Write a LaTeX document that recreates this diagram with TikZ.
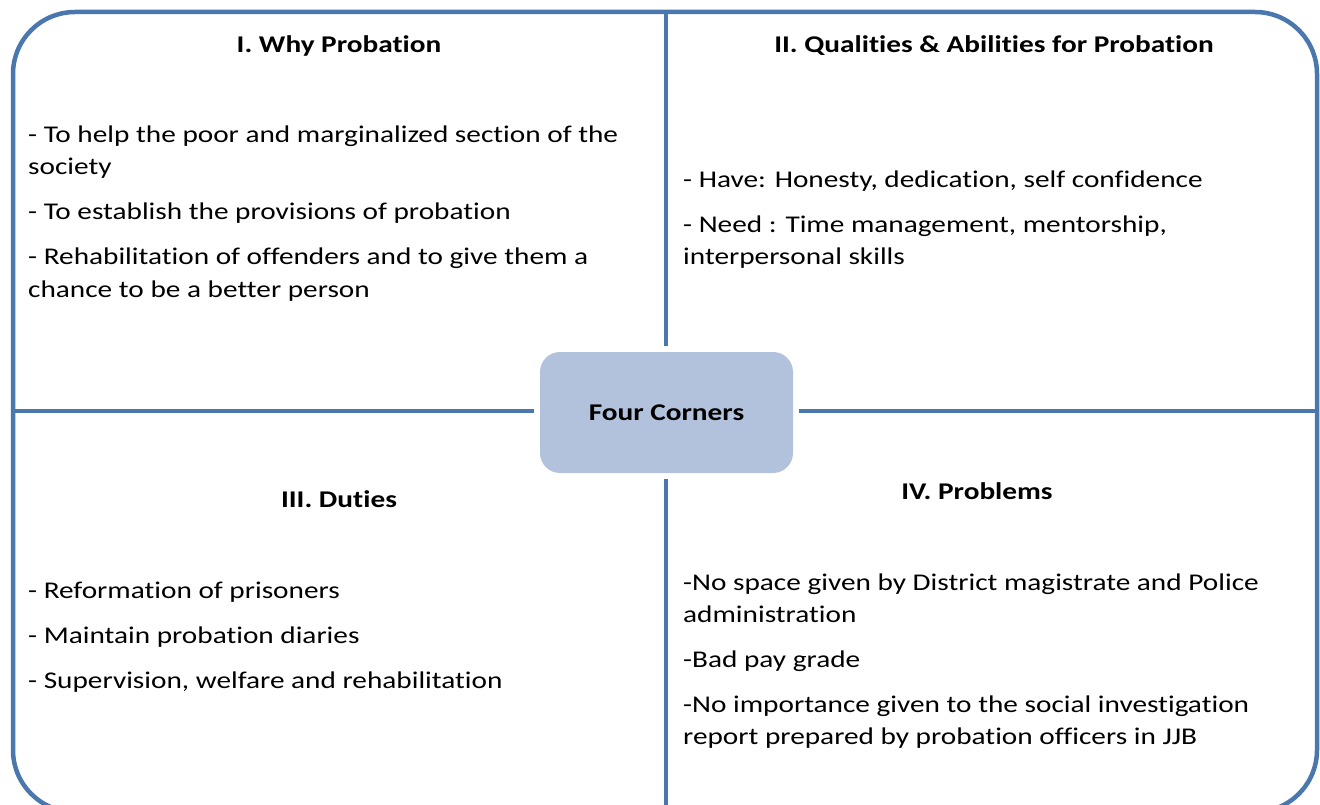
\documentclass[tikz,border=0pt]{standalone}
\usepackage{fontspec}
\setmainfont{Carlito}[FakeStretch=1.22,RawFeature=-liga]
\definecolor{bord}{HTML}{4A77AE}
\definecolor{boxfill}{HTML}{B2C2DC}
\begin{document}
\begin{tikzpicture}[x=1pt,y=-1pt,
  body/.style={anchor=base west,inner sep=0pt,font=\fontsize{24}{29}\selectfont},
  head/.style={anchor=base,inner sep=0pt,font=\fontsize{24}{29}\selectfont\bfseries},
  frame/.style={draw=bord,line width=4.5pt,rounded corners=62pt},
  divider/.style={draw=bord,line width=4pt,shorten >=6pt},
  hub/.style={fill=boxfill,rounded corners=20pt,minimum width=253pt,minimum height=121pt,inner sep=0pt,font=\fontsize{24}{29}\selectfont\bfseries}]
\useasboundingbox (0,0) rectangle (1320,805);
\clip (0,0) rectangle (1320,805);
\draw[frame] (13,12) rectangle (1317,812);
\node[hub] (hub) at (666.5,412.5) {Four Corners};
\coordinate (top) at (666,12);
\coordinate (bot) at (666,812);
\coordinate (lft) at (13,411);
\coordinate (rgt) at (1317,411);
\draw[divider] (top) -- (top|-hub.north);
\draw[divider] (bot) -- (bot|-hub.south);
\draw[divider] (lft) -- (lft-|hub.west);
\draw[divider] (rgt) -- (rgt-|hub.east);
% I
\node[head] (h1) at (339,53) {I. Why Probation};
\node[body] (a1) at (28,143) {- To help the poor and marginalized section of the};
\node[body] (a2) at (28,175) {society};
\node[body] (a3) at (28,220) {- To establish the provisions of probation};
\node[body] (a4) at (28,265) {- Rehabilitation of offenders and to give them a};
\node[body] (a5) at (28,297) {chance to be a better person};
% II
\node[head] (h2) at (994,53) {II. Qualities \& Abilities for Probation};
\node[body] (b1) at (683,188) {- Have: Honesty, dedication, self confidence};
\node[body] (b2) at (683,233) {- Need : Time management, mentorship,};
\node[body] (b3) at (683,265) {interpersonal skills};
% III
\node[head] (h3) at (339,507) {III. Duties};
\node[body] (c1) at (28,598) {- Reformation of prisoners};
\node[body] (c2) at (28,643) {- Maintain probation diaries};
\node[body] (c3) at (28,688) {- Supervision, welfare and rehabilitation};
% IV
\node[head] (h4) at (977,499) {IV. Problems};
\node[body] (d1) at (683,590) {-No space given by District magistrate and Police};
\node[body] (d2) at (683,622) {administration};
\node[body] (d3) at (683,667) {-Bad pay grade};
\node[body] (d4) at (683,712) {-No importance given to the social investigation};
\node[body] (d5) at (683,744) {report prepared by probation officers in JJB};
\end{tikzpicture}
\end{document}
